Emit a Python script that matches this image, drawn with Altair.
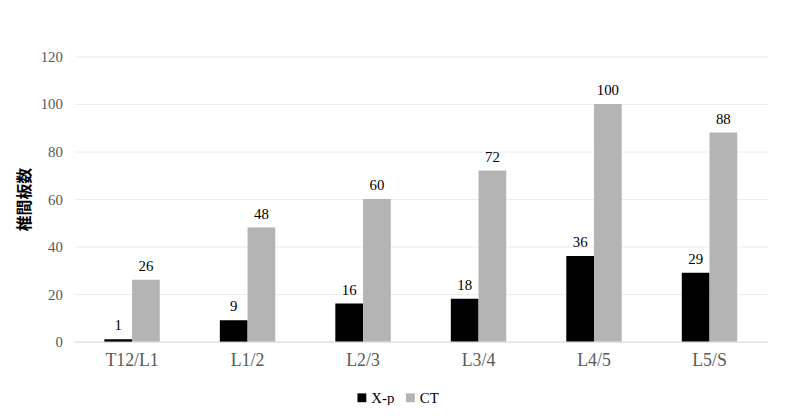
import altair as alt
import pandas as pd

categories = ["T12/L1", "L1/2", "L2/3", "L3/4", "L4/5", "L5/S"]
xp_values = [1, 9, 16, 18, 36, 29]
ct_values = [26, 48, 60, 72, 100, 88]
series = ["X-p", "CT"]
colors = ["#000000", "#b4b4b4"]

rows = []
for c, a, b in zip(categories, xp_values, ct_values):
    rows.append({"cat": c, "series": "X-p", "value": a})
    rows.append({"cat": c, "series": "CT", "value": b})
df = pd.DataFrame(rows)

font = "Liberation Serif"

x = alt.X("cat:N", sort=categories, title=None,
          scale=alt.Scale(paddingInner=0.52, paddingOuter=0.26),
          axis=alt.Axis(labelAngle=0, labelFont=font, labelFontSize=18, labelColor="#595959",
                        labelPadding=10, ticks=False, domainColor="#d9d9d9", grid=False))
y = alt.Y("value:Q", title="椎間板数",
          scale=alt.Scale(domain=[0, 120]),
          axis=alt.Axis(values=[0, 20, 40, 60, 80, 100, 120], labelFont=font, labelFontSize=15,
                        labelColor="#595959", labelPadding=12, ticks=False, domain=False,
                        gridColor="#ececec", titleFont="Noto Sans CJK JP", titleFontSize=16,
                        titleFontWeight="bold", titleColor="#000000", titlePadding=8))
color = alt.Color("series:N", sort=series,
                  scale=alt.Scale(domain=series, range=colors),
                  legend=alt.Legend(title=None, orient="none", legendX=283, legendY=337,
                                    direction="horizontal", symbolType="square", symbolSize=80,
                                    symbolStrokeWidth=0, labelFont=font, labelFontSize=15,
                                    labelColor="#000000", columnPadding=8, labelOffset=2))
xoff = alt.XOffset("series:N", sort=series, scale=alt.Scale(domain=series))

base = alt.Chart(df).encode(x=x, y=y, xOffset=xoff)
bars = base.mark_bar().encode(color=color)
labels = base.mark_text(dy=-6, baseline="bottom", font=font, fontSize=15,
                        color="#000000").encode(text="value:Q")

chart = (bars + labels).properties(
    width=700, height=288,
    autosize=alt.AutoSizeParams(type="none"),
    padding={"left": 67, "top": 47, "right": 25, "bottom": 62},
).configure_view(stroke=None)

chart.save("out.html", embed_options={"renderer": "svg", "actions": False})
